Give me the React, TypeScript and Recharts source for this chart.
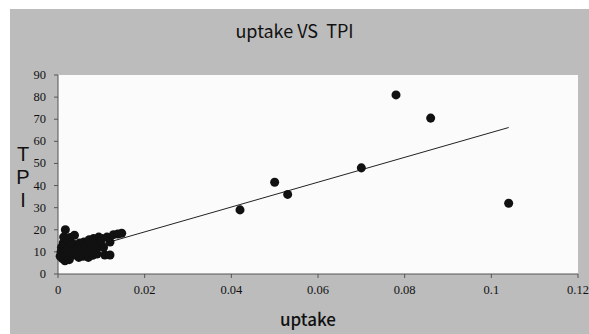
import { ScatterChart, Scatter, XAxis, YAxis, ZAxis, CartesianGrid, ReferenceLine } from "recharts";

// uptake (x) and TPI (y)
const uptake = [
  0.0005, 0.0007, 0.0008, 0.0009, 0.001, 0.001, 0.0012, 0.0013, 0.0014, 0.0015,
  0.0016, 0.0017, 0.0018, 0.002, 0.002, 0.0022, 0.0024, 0.0025, 0.0026, 0.0028,
  0.003, 0.0032, 0.0034, 0.0036, 0.0038, 0.004, 0.0042, 0.0045, 0.0048, 0.005,
  0.0052, 0.0055, 0.0058, 0.006, 0.0062, 0.0065, 0.0068, 0.007, 0.0072, 0.0075,
  0.0078, 0.008, 0.0082, 0.0085, 0.0088, 0.009, 0.0094, 0.0098, 0.0101, 0.0105,
  0.0108, 0.0113, 0.012, 0.012, 0.0128, 0.0138, 0.0147,
  0.042, 0.05, 0.053, 0.07, 0.078, 0.086, 0.104,
];
const tpi = [
  8, 10, 12, 9, 11, 7, 14, 16.7, 9.5, 12.5,
  6, 20, 10.5, 8, 13, 11, 15, 9, 6.5, 16.5,
  12, 10, 8.5, 13.5, 17.5, 11, 9.5, 12, 7.5, 14,
  10.5, 12.5, 8, 14.5, 11.5, 9, 13, 7.5, 15.5, 10,
  12.5, 8.5, 16, 13.5, 11, 9, 16.7, 14, 16, 12,
  8.6, 16.7, 14.5, 8.6, 17.8, 18.1, 18.4,
  29, 41.5, 36, 48, 81, 70.5, 32,
];

const xTicks = [0, 0.02, 0.04, 0.06, 0.08, 0.1, 0.12];
const yTicks = [0, 10, 20, 30, 40, 50, 60, 70, 80, 90];

// linear trendline as drawn in the picture
const trendSlope = 562;
const trendIntercept = 7.8;

const points = uptake.map((u, i) => ({ uptake: u, tpi: tpi[i] }));
const xMin = Math.min(...uptake);
const xMax = Math.max(...uptake);
const trendSegment = [
  { x: xMin, y: trendIntercept + trendSlope * xMin },
  { x: xMax, y: trendIntercept + trendSlope * xMax },
];

const serif = "Liberation Serif";
const gothic = "'Noto Sans CJK JP', 'DejaVu Sans', sans-serif";

const XTick = ({ x, y, payload }: any) => (
  <text x={x} y={y + 14} textAnchor="middle" fontFamily={serif} fontSize={12.5} fill="#111">
    {String(payload.value)}
  </text>
);

const YTick = ({ x, y, payload }: any) => (
  <text x={x - 6} y={y + 4} textAnchor="end" fontFamily={serif} fontSize={12.5} fill="#111">
    {payload.value}
  </text>
);

export default function App() {
  return (
    <div style={{ position: "absolute", left: 0, top: 0, width: 589, height: 334, background: "#fff" }}>
      <div style={{ position: "absolute", left: 10, top: 9, width: 579, height: 325, background: "#bcbcbc" }} />
      <div
        style={{
          position: "absolute", left: 0, top: 17, width: 589, textAlign: "center",
          fontFamily: gothic, fontSize: 18, color: "#111", whiteSpace: "pre",
        }}
      >
        {"uptake VS  TPI"}
      </div>
      <div
        style={{
          position: "absolute", left: 0, top: 306, width: 616, textAlign: "center",
          fontFamily: gothic, fontSize: 17, fontWeight: 500, color: "#111",
        }}
      >
        uptake
      </div>
      {["T", "P", "I"].map((ch, i) => (
        <div
          key={ch}
          style={{
            position: "absolute", left: 12, top: 143 + i * 23, width: 22, height: 23, textAlign: "center",
            fontFamily: "Liberation Sans", fontSize: 20, lineHeight: "23px", color: "#111",
          }}
        >
          {ch}
        </div>
      ))}
      <div style={{ position: "absolute", left: 0, top: 0 }}>
        <ScatterChart width={589} height={334} margin={{ top: 75, right: 11, bottom: 30, left: 18 }}>
          <CartesianGrid horizontal={false} vertical={false} fill="#fbfbfb" />
          <XAxis
            type="number"
            dataKey="uptake"
            domain={[0, 0.12]}
            ticks={xTicks}
            interval={0}
            height={30}
            tickSize={4}
            stroke="#555"
            tick={<XTick />}
          />
          <YAxis
            type="number"
            dataKey="tpi"
            domain={[0, 90]}
            ticks={yTicks}
            interval={0}
            width={40}
            tickSize={4}
            stroke="#555"
            tick={<YTick />}
          />
          <ZAxis range={[30, 30]} />
          <ReferenceLine segment={trendSegment} stroke="#222" strokeWidth={1} />
          <Scatter data={points} fill="#111" isAnimationActive={false} />
        </ScatterChart>
      </div>
    </div>
  );
}
